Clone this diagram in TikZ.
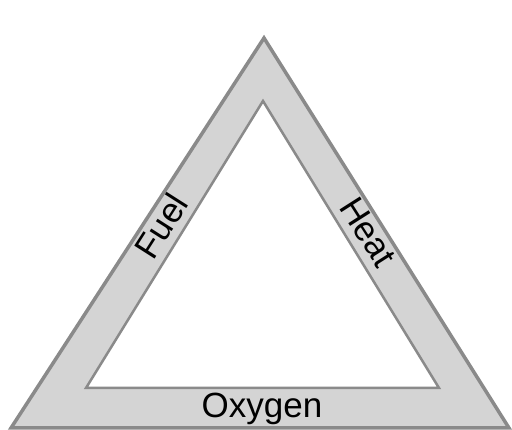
\documentclass[tikz,border=0pt]{standalone}
\usepackage{fontspec}
\setmainfont{Liberation Sans}
\definecolor{banda}{HTML}{D4D4D4}
\definecolor{borde}{HTML}{8A8A8A}
\tikzset{etiqueta/.style={font=\fontsize{35}{35}\selectfont, inner sep=0pt, anchor=center}}
\begin{document}
\begin{tikzpicture}[x=1pt, y=-1pt, line width=3.5pt, line join=miter]
  \useasboundingbox (0,0) rectangle (512,430);
  % el triangulo exterior
  \filldraw[fill=banda, draw=borde] (264,38) -- (509,428) -- (11,428) -- cycle;
  % el triangulo interior
  \filldraw[fill=white, draw=borde, line width=2.5pt] (263,101) -- (439,388) -- (86,388) -- cycle;
  % los lados
  \node[etiqueta, rotate=57.5] (fuel) at (161,226) {Fuel};
  \node[etiqueta, rotate=-57.5] (heat) at (368,232) {Heat};
  \node[etiqueta] (oxygen) at (262,409) {Oxygen};
\end{tikzpicture}
\end{document}
